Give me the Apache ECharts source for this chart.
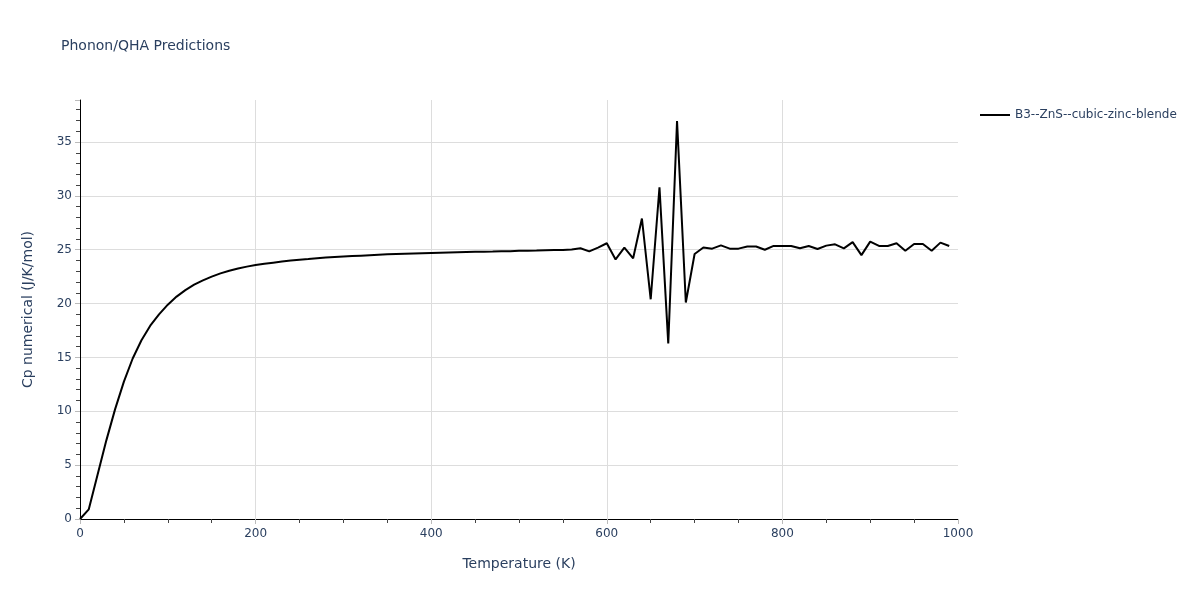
<!DOCTYPE html>
<html>
<head>
<meta charset="utf-8">
<script src="https://cdn.jsdelivr.net/npm/echarts@6/dist/echarts.min.js"></script>
<style>html,body{margin:0;padding:0;background:#fff}#c{width:1200px;height:600px}</style>
</head>
<body>
<div id="c"></div>
<script>
const temperatures = [
  0,10,20,30,40,50,60,70,80,90,
  100,110,120,130,140,150,160,170,180,190,
  200,210,220,230,240,250,260,270,280,290,
  300,310,320,330,340,350,360,370,380,390,
  400,410,420,430,440,450,460,470,480,490,
  500,510,520,530,540,550,560,570,580,590,
  600,610,620,630,640,650,660,670,680,690,
  700,710,720,730,740,750,760,770,780,790,
  800,810,820,830,840,850,860,870,880,890,
  900,910,920,930,940,950,960,970,980,990
];
const cpValues = [
  0,0.9,4.1,7.3,10.2,12.75,14.9,16.6,17.95,19.0,
  19.9,20.65,21.25,21.75,22.15,22.5,22.8,23.05,23.25,23.43,
  23.58,23.7,23.8,23.9,24.0,24.07,24.13,24.2,24.27,24.32,
  24.37,24.41,24.45,24.49,24.53,24.57,24.6,24.63,24.66,24.68,
  24.7,24.72,24.74,24.76,24.78,24.8,24.82,24.83,24.85,24.86,
  24.9,24.9,24.92,24.95,24.97,24.98,25.02,25.13,24.85,25.2,
  25.6,24.1,25.2,24.2,27.9,20.4,30.8,16.3,36.95,20.1,
  24.6,25.2,25.1,25.4,25.1,25.1,25.3,25.3,25.0,25.35,
  25.35,25.35,25.13,25.35,25.07,25.38,25.5,25.13,25.7,24.5,
  25.75,25.35,25.35,25.6,24.9,25.53,25.53,24.9,25.66,25.35
];
const seriesName = 'B3--ZnS--cubic-zinc-blende';
const chartTitle = 'Phonon/QHA Predictions';
const xTitle = 'Temperature (K)';
const yTitle = 'Cp numerical (J/K/mol)';

const textColor = '#2a3f5f';
const font = '"DejaVu Sans", Verdana, sans-serif';
const chart = echarts.init(document.getElementById('c'), null, {renderer: 'canvas'});
chart.setOption({
  animation: false,
  backgroundColor: '#fff',
  textStyle: {fontFamily: font, color: textColor},
  title: {
    text: chartTitle, left: 56, top: 34,
    textStyle: {fontFamily: font, fontSize: 14, fontWeight: 'normal', color: textColor}
  },
  legend: {
    left: 975, top: 104, icon: 'rect', itemWidth: 30, itemHeight: 2,
    textStyle: {fontFamily: font, fontSize: 12, color: textColor},
    data: [seriesName]
  },
  grid: {left: 80, right: 242, top: 100, bottom: 81, containLabel: false},
  xAxis: {
    type: 'value', min: 0, max: 1000, interval: 200,
    name: xTitle, nameLocation: 'middle', nameGap: 38,
    nameTextStyle: {fontFamily: font, fontSize: 14, color: textColor},
    axisLine: {show: true, onZero: false, lineStyle: {color: '#000', width: 1}},
    axisTick: {show: true, length: 5, lineStyle: {color: '#bbb'}},
    minorTick: {show: true, splitNumber: 4, length: 4, lineStyle: {color: '#444'}},
    axisLabel: {fontFamily: font, fontSize: 12, color: textColor, margin: 9,
      formatter: v => String(v)},
    splitLine: {show: true, showMinLine: false, showMaxLine: false, lineStyle: {color: '#dddddd', width: 1}}
  },
  yAxis: {
    type: 'value', min: 0, max: 38.9, interval: 5,
    name: yTitle, nameLocation: 'middle', nameGap: 45,
    nameTextStyle: {fontFamily: font, fontSize: 14, color: textColor},
    axisLine: {show: true, onZero: false, lineStyle: {color: '#000', width: 1}},
    axisTick: {show: true, length: 5, lineStyle: {color: '#bbb'}},
    minorTick: {show: true, splitNumber: 5, length: 4, lineStyle: {color: '#444'}},
    axisLabel: {fontFamily: font, fontSize: 12, color: textColor, margin: 8, showMaxLabel: false,
      formatter: v => (v % 5 === 0 ? String(v) : '')},
    splitLine: {show: true, showMinLine: false, showMaxLine: false, lineStyle: {color: '#dddddd', width: 1}}
  },
  series: [{
    name: seriesName, type: 'line',
    data: temperatures.map((t, i) => [t, cpValues[i]]),
    showSymbol: false, symbol: 'none',
    lineStyle: {color: '#000', width: 2},
    itemStyle: {color: '#000'}
  }]
});
</script>
</body>
</html>
